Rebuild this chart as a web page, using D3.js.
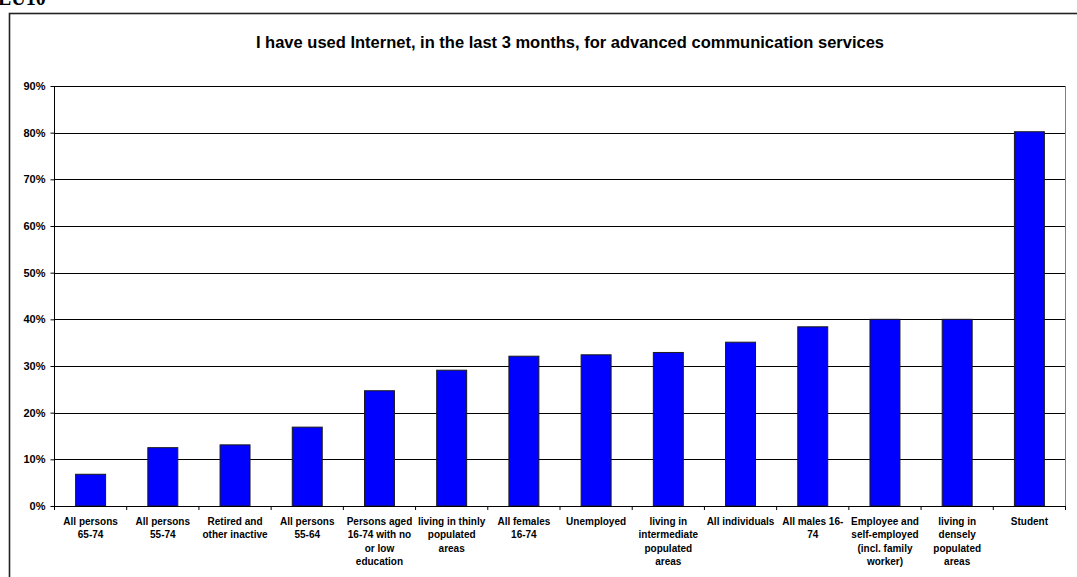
<!DOCTYPE html>
<html>
<head>
<meta charset="utf-8">
<script src="https://cdn.jsdelivr.net/npm/d3@7"></script>
<style>
  html, body { margin: 0; padding: 0; background: #fff; }
  svg { display: block; font-family: "Liberation Sans", Arial, sans-serif; }
</style>
</head>
<body>
<svg id="chart" width="1077" height="577"></svg>
<script>
const title = "I have used Internet, in the last 3 months, for advanced communication services";
const categories = [
  "All persons\n65-74",
  "All persons\n55-74",
  "Retired and\nother inactive",
  "All persons\n55-64",
  "Persons aged\n16-74 with no\nor low\neducation",
  "living in thinly\npopulated\nareas",
  "All females\n16-74",
  "Unemployed",
  "living in\nintermediate\npopulated\nareas",
  "All individuals",
  "All males 16-\n74",
  "Employee and\nself-employed\n(incl. family\nworker)",
  "living in\ndensely\npopulated\nareas",
  "Student"
];
const values = [6.8, 12.5, 13.1, 16.9, 24.7, 29.1, 32.1, 32.4, 32.9, 35.1, 38.4, 40.0, 40.0, 80.2];
const yTicks = [0, 10, 20, 30, 40, 50, 60, 70, 80, 90];

const svg = d3.select("#chart");
const W = 1077, H = 577;
const plot = { left: 54.5, right: 1065.5, top: 86, bottom: 506 };

// page header fragment (clipped at top in the source)
svg.append("text")
  .attr("x", -2).attr("y", 5)
  .attr("font-family", "'Liberation Serif', 'Times New Roman', serif")
  .attr("font-weight", "bold")
  .attr("font-size", 20)
  .attr("fill", "#000")
  .text("EU10");

// outer chart frame
svg.append("rect")
  .attr("x", 9.5).attr("y", 13.5)
  .attr("width", W + 20).attr("height", H + 20)
  .attr("fill", "#fff")
  .attr("stroke", "#222").attr("stroke-width", 1.6);

// title
svg.append("text")
  .attr("x", 570).attr("y", 48)
  .attr("text-anchor", "middle")
  .attr("font-weight", "bold")
  .attr("font-size", 16.5)
  .attr("fill", "#000")
  .text(title);

const x = d3.scaleBand()
  .domain(categories)
  .range([plot.left, plot.right])
  .paddingInner(0.585)
  .paddingOuter(0.2925);

const y = d3.scaleLinear()
  .domain([0, 90])
  .range([plot.bottom, plot.top]);

// gridlines
svg.append("g")
  .selectAll("line")
  .data(yTicks.filter(d => d > 0))
  .join("line")
  .attr("x1", plot.left).attr("x2", plot.right)
  .attr("y1", d => Math.round(y(d)) + 0.5).attr("y2", d => Math.round(y(d)) + 0.5)
  .attr("stroke", "#000").attr("stroke-width", 1);

// plot area right border
svg.append("line")
  .attr("x1", plot.right).attr("x2", plot.right)
  .attr("y1", plot.top).attr("y2", plot.bottom)
  .attr("stroke", "#808080").attr("stroke-width", 1);

// bars
svg.append("g")
  .selectAll("rect")
  .data(values)
  .join("rect")
  .attr("x", (d, i) => x(categories[i]))
  .attr("width", x.bandwidth())
  .attr("y", d => y(d))
  .attr("height", d => y(0) - y(d))
  .attr("fill", "#0000ff")
  .attr("stroke", "#1a1a1a").attr("stroke-width", 1);

// y axis
const yAxis = d3.axisLeft(y)
  .tickValues(yTicks)
  .tickFormat(d => d + "%")
  .tickSize(4)
  .tickPadding(5);
const gy = svg.append("g")
  .attr("transform", `translate(${plot.left},0)`)
  .call(yAxis);
gy.select(".domain").attr("stroke", "#000").attr("d", `M0,${plot.top}V${plot.bottom}`);
gy.selectAll(".tick line").attr("stroke", "#000");
gy.selectAll(".tick text")
  .attr("font-family", "'Liberation Sans', Arial, sans-serif")
  .attr("font-weight", "bold")
  .attr("font-size", 11)
  .attr("fill", "#000");

// x axis line
svg.append("line")
  .attr("x1", plot.left).attr("x2", plot.right)
  .attr("y1", plot.bottom + 0.5).attr("y2", plot.bottom + 0.5)
  .attr("stroke", "#000").attr("stroke-width", 1);

// x tick marks between categories
svg.append("g")
  .selectAll("line")
  .data(d3.range(categories.length + 1))
  .join("line")
  .attr("x1", i => plot.left + i * (plot.right - plot.left) / categories.length)
  .attr("x2", i => plot.left + i * (plot.right - plot.left) / categories.length)
  .attr("y1", plot.bottom).attr("y2", plot.bottom + 4)
  .attr("stroke", "#000");

// x labels
const gx = svg.append("g");
categories.forEach((c, i) => {
  const cx = x(c) + x.bandwidth() / 2;
  const t = gx.append("text")
    .attr("x", cx).attr("y", 525)
    .attr("text-anchor", "middle")
    .attr("font-weight", "bold")
    .attr("font-size", 10)
    .attr("fill", "#000");
  c.split("\n").forEach((line, j) => {
    t.append("tspan").attr("x", cx).attr("dy", j === 0 ? 0 : 13.3).text(line);
  });
});
</script>
</body>
</html>
